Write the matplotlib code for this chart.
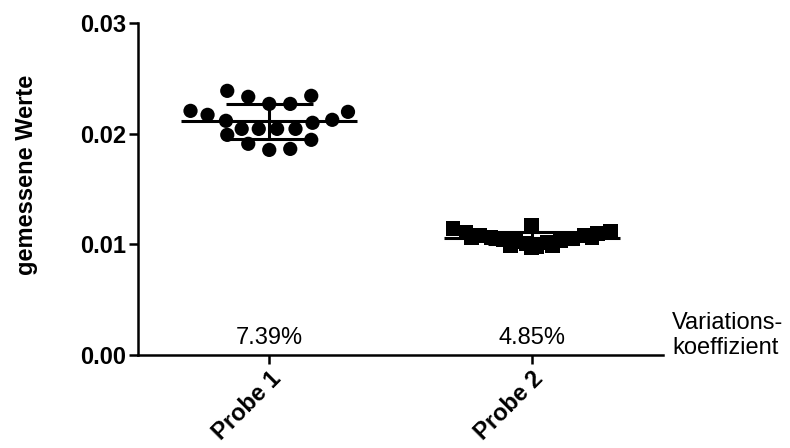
import numpy as np
import matplotlib
matplotlib.use("Agg")
import matplotlib.pyplot as plt

plt.rcParams["font.family"] = ["Liberation Sans", "DejaVu Sans"]

# Messwerte je Probe
categories = ["Probe 1", "Probe 2"]
probe1 = [0.02389, 0.02335, 0.02344, 0.02271, 0.02271, 0.02208, 0.02172, 0.02199,
          0.02127, 0.02100, 0.02118, 0.02045, 0.02045, 0.02045, 0.02045, 0.01991,
          0.01910, 0.01946, 0.01855, 0.01864]
probe2 = [0.01145, 0.01109, 0.01081, 0.01063, 0.01045, 0.01027, 0.01009, 0.01172,
          0.00982, 0.01018, 0.01036, 0.01054, 0.01081, 0.01100, 0.01118, 0.01063,
          0.00991, 0.00991, 0.01063, 0.00973]
cv_labels = ["7.39%", "4.85%"]

# horizontale Verteilung der Punkte (Einheiten der x-Achse)
offs1 = [-0.16, -0.08, 0.16, 0.0, 0.08, -0.30, -0.235, 0.30,
         0.24, 0.165, -0.165, -0.105, -0.04, 0.03, 0.10, -0.16,
         -0.08, 0.16, 0.0, 0.08]
offs2 = [-0.30, -0.25, -0.20, -0.155, -0.11, -0.06, -0.02, 0.0,
         0.02, 0.06, 0.11, 0.155, 0.20, 0.25, 0.30, -0.23,
         -0.08, 0.08, 0.23, 0.0]

fig = plt.figure(figsize=(7.9, 4.48), dpi=100)
ax = fig.add_axes([0.1747, 0.2076, 0.6645, 0.7404])

ax.scatter(np.array(offs1) + 0, probe1, marker="o", s=105, color="black",
           edgecolors="none", zorder=3)
ax.scatter(np.array(offs2) + 1, probe2, marker="s", s=110, color="black",
           edgecolors="none", zorder=3)

# Mittelwert und Standardabweichung
for i, vals in enumerate([probe1, probe2]):
    m = np.mean(vals)
    sd = np.std(vals, ddof=1)
    ax.hlines(m, i - 0.335, i + 0.335, color="black", lw=2.2, zorder=4)
    ax.hlines([m - sd, m + sd], i - 0.165, i + 0.165, color="black", lw=2.2, zorder=4)
    ax.vlines(i, m - sd, m + sd, color="black", lw=2.2, zorder=4)
    ax.text(i, 0.00158, cv_labels[i], ha="center", va="center", fontsize=17)

ax.text(1.535, 0.00175, "Variations-\nkoeffizient", ha="left", va="center",
        fontsize=17, linespacing=1.2, clip_on=False)

ax.set_xlim(-0.5, 1.5)
ax.set_ylim(0, 0.03)
ax.set_yticks([0.0, 0.01, 0.02, 0.03])
ax.set_yticklabels(["0.00", "0.01", "0.02", "0.03"], fontsize=17, fontweight="bold")
ax.set_xticks([0, 1])
ax.set_xticklabels(categories, fontsize=17, fontweight="bold", rotation=45,
                   ha="right", va="top", rotation_mode="anchor")
ax.set_ylabel("gemessene Werte", fontsize=17, fontweight="bold")
ax.yaxis.set_label_coords(-0.19, 0.544)

for side in ["top", "right"]:
    ax.spines[side].set_visible(False)
for side in ["left", "bottom"]:
    ax.spines[side].set_linewidth(1.8)
ax.tick_params(axis="both", length=6.5, width=1.8, direction="out", pad=2)

fig.savefig("out.png", dpi=100)
